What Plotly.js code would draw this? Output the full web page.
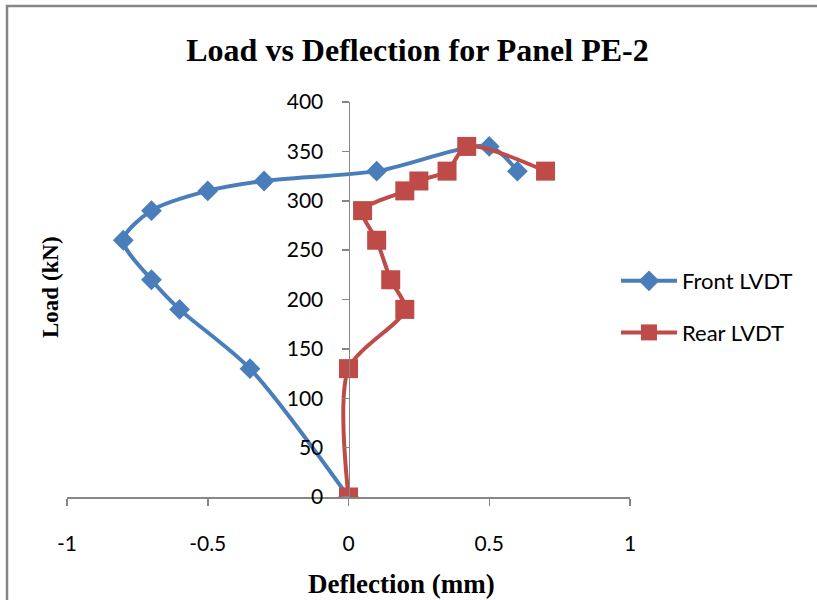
<!DOCTYPE html>
<html>
<head>
<meta charset="utf-8">
<script src="https://cdn.plot.ly/plotly-3.0.1.min.js"></script>
<style>html,body{margin:0;padding:0;background:#fff;}#chart{width:817px;height:600px;}</style>
</head>
<body>
<div id="chart"></div>
<script>
// Front LVDT (diamonds)
const frontDeflection = [0, -0.35, -0.6, -0.7, -0.8, -0.7, -0.5, -0.3, 0.1, 0.5, 0.6];
const frontLoad       = [0, 130, 190, 220, 260, 290, 310, 320, 330, 355, 330];
// Rear LVDT (squares)
const rearDeflection  = [0, 0, 0.2, 0.15, 0.1, 0.05, 0.2, 0.25, 0.35, 0.42, 0.7];
const rearLoad        = [0, 130, 190, 220, 260, 290, 310, 320, 330, 355, 330];
const seriesNames = ["Front LVDT", "Rear LVDT"];
const xTicks = [-1, -0.5, 0, 0.5, 1];
const yTicks = [0, 50, 100, 150, 200, 250, 300, 350, 400];

const L = 67, R = 630, T = 102, B = 497, W = 817, H = 600;
const px = v => (v - L) / (R - L);
const py = v => (B - v) / (B - T);

const traces = [
  {x: frontDeflection, y: frontLoad, name: seriesNames[0], mode: 'lines+markers', type: 'scatter',
   legendgroup: 'a',
   line: {color: '#4A7EBB', width: 4, shape: 'spline', smoothing: 0.8},
   marker: {symbol: 'diamond', size: 16, color: '#4A7EBB'}},
  {x: rearDeflection, y: rearLoad, name: seriesNames[1], mode: 'lines+markers', type: 'scatter',
   legendgroup: 'b',
   line: {color: '#BE4B48', width: 4, shape: 'spline', smoothing: 0.8},
   marker: {symbol: 'square', size: 19, color: '#BE4B48'}}
];

const serif = '"Liberation Serif", "Times New Roman", serif';
const tickFont = {family: 'Lato, "Noto Sans", sans-serif', size: 21, color: '#000'};

const layout = {
  width: W, height: H,
  margin: {l: L, r: W - R, t: T, b: H - B, pad: 0},
  paper_bgcolor: '#fff', plot_bgcolor: '#fff',
  showlegend: true,
  title: {text: '<b>Load vs Deflection for Panel PE-2</b>',
    font: {family: serif, size: 32, color: '#000'},
    x: 417.5 / W, xanchor: 'center', y: 1 - 50 / H, yanchor: 'middle'},
  xaxis: {range: [-1, 1], tickvals: xTicks, ticktext: xTicks.map(String),
    showgrid: false, zeroline: false, showline: true, linecolor: '#868686', linewidth: 1.5,
    ticks: 'outside', ticklen: 7, tickcolor: '#868686', tickwidth: 1.5,
    tickfont: tickFont, ticklabelstandoff: 20},
  yaxis: {range: [0, 400], tickvals: yTicks, ticktext: yTicks.map(String),
    anchor: 'free', position: 0.5,
    showgrid: false, zeroline: false, showline: true, linecolor: '#868686', linewidth: 1.5,
    ticks: 'outside', ticklen: 7, tickcolor: '#868686', tickwidth: 1.5,
    tickfont: tickFont, ticklabelstandoff: 14},
  legend: {x: px(616), xanchor: 'left', y: py(307), yanchor: 'middle',
    font: {family: 'Lato, "Noto Sans", sans-serif', size: 22, color: '#000'},
    traceorder: 'grouped', tracegroupgap: 20, bgcolor: 'rgba(0,0,0,0)', itemwidth: 56},
  annotations: [
    {text: '<b>Load (kN)</b>', xref: 'paper', yref: 'paper', x: px(50), y: py(287),
     xanchor: 'center', yanchor: 'middle', textangle: -90, showarrow: false,
     font: {family: serif, size: 23, color: '#000'}},
    {text: '<b>Deflection (mm)</b>', xref: 'paper', yref: 'paper', x: px(401), y: py(584),
     xanchor: 'center', yanchor: 'middle', showarrow: false,
     font: {family: serif, size: 27, color: '#000'}}
  ],
  shapes: [
    {type: 'rect', xref: 'paper', yref: 'paper', x0: px(7), y0: py(6), x1: px(830), y1: py(620),
     line: {color: '#868686', width: 2.5}, fillcolor: 'rgba(0,0,0,0)', layer: 'below'}
  ]
};

Plotly.newPlot('chart', traces, layout, {displayModeBar: false, staticPlot: true});
</script>
</body>
</html>
